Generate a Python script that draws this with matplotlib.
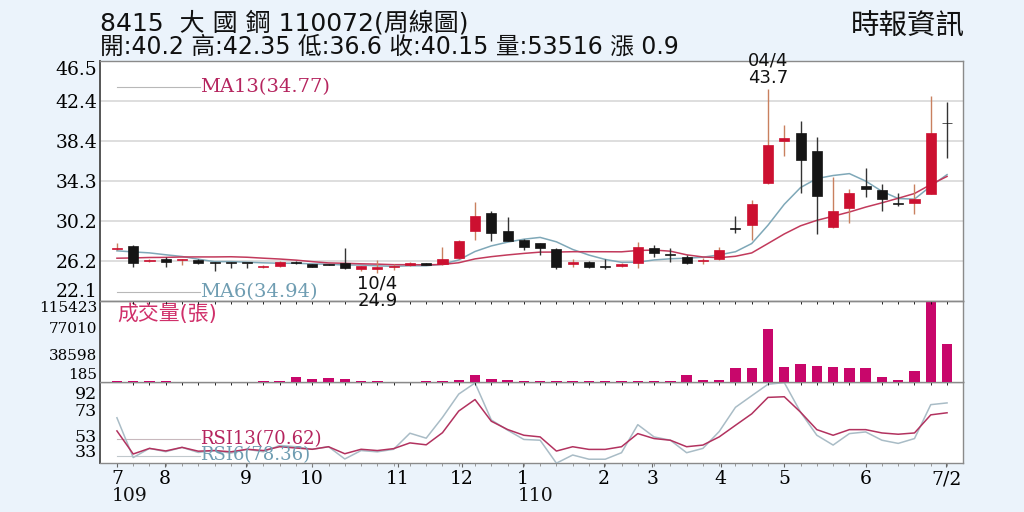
import matplotlib
matplotlib.use('Agg')
import matplotlib.pyplot as plt
import numpy as np
import pandas as pd

# 8415 大國鋼 weekly candles, 109/07 ~ 110/07/02
opens = [27.35, 27.7, 26.2, 26.35, 26.3, 26.3, 26.05, 26.0, 25.98, 25.55,
         25.65, 26.1, 25.85, 25.85, 26.0, 25.4, 25.35, 25.6, 25.75, 25.95,
         25.85, 26.5, 29.2, 31.0, 29.25, 28.3, 27.95, 27.4, 25.9, 26.05,
         25.62, 25.65, 25.95, 27.45, 26.9, 26.55, 26.15, 26.35, 29.5, 29.85,
         34.1, 38.4, 39.2, 37.3, 29.6, 31.55, 33.75, 33.4, 32.05, 32.05,
         33.0, 40.2]
highs = [27.95, 27.8, 26.4, 26.55, 26.4, 26.35, 26.1, 26.05, 26.0, 25.75,
         26.15, 26.2, 25.9, 25.9, 27.45, 25.7, 26.25, 25.9, 26.05, 26.0,
         27.55, 28.3, 32.2, 31.2, 30.6, 28.4, 28.0, 27.5, 26.35, 26.15,
         26.34, 25.95, 28.05, 27.8, 27.45, 26.75, 26.45, 27.6, 30.75, 32.4,
         43.7, 39.95, 40.35, 38.8, 34.75, 33.45, 35.6, 34.0, 33.1, 34.0,
         42.9, 42.35]
lows = [27.3, 25.6, 26.1, 25.6, 25.75, 25.9, 25.2, 25.45, 25.45, 25.5,
        25.6, 25.9, 25.55, 25.75, 25.4, 25.1, 24.9, 25.3, 25.7, 25.75,
        25.8, 26.35, 28.3, 28.2, 28.15, 27.3, 26.8, 25.35, 25.55, 25.5,
        25.32, 25.55, 25.5, 26.6, 26.1, 25.9, 25.85, 26.3, 29.05, 28.3,
        34.0, 36.8, 33.1, 28.9, 29.55, 30.0, 32.7, 31.3, 31.8, 30.95,
        33.0, 36.6]
closes = [27.5, 25.95, 26.3, 26.05, 26.35, 25.95, 26.0, 25.98, 25.95, 25.65,
          26.1, 25.95, 25.6, 25.8, 25.45, 25.65, 25.6, 25.65, 25.95, 25.8,
          26.4, 28.25, 30.75, 29.05, 28.25, 27.6, 27.5, 25.55, 26.1, 25.6,
          25.6, 25.85, 27.55, 26.95, 26.8, 25.95, 26.2, 27.3, 29.45, 31.95,
          38.0, 38.7, 36.4, 32.8, 31.3, 33.1, 33.45, 32.45, 32.0, 32.45,
          39.2, 40.15]
# closes of the weeks before the window, for the moving averages
pre_closes = [25.6, 25.7, 25.9, 25.8, 25.9, 26.0, 25.75, 26.6, 26.9, 27.2, 27.4, 27.6]

volumes = [600, 1500, 1300, 300, 250, 250, 250, 200, 250, 300,
           1000, 6200, 4300, 4700, 3300, 300, 300, 250, 250, 300,
           1000, 2400, 9100, 3800, 2900, 1500, 1200, 1200, 400, 350,
           300, 350, 1500, 1500, 1500, 9500, 2400, 2400, 20000, 19100,
           74800, 21500, 24800, 22900, 21000, 20000, 20000, 7150, 2900, 15700,
           115423, 53516]

rsi6 = [66.7, 35.5, 42.7, 40.1, 43.5, 39.5, 41, 39, 42, 40,
        45, 44, 42, 44, 34.4, 41, 40, 42, 54.6, 50.7,
        67, 85.3, 94, 65, 57, 49.7, 49.1, 31.1, 37.5, 34.2,
        34.2, 39.3, 61.3, 51.7, 49.1, 39.3, 42.7, 55.9, 74.9, 84.0,
        93.0, 94.3, 71.1, 53.0, 45.3, 54.3, 55.6, 49.1, 46.6, 50.4,
        77.0, 78.36]
rsi13 = [56.4, 38.3, 42.7, 40.7, 43.5, 40.5, 41, 40, 42, 41,
         44, 43, 42, 44, 38.5, 42, 41, 42.5, 47, 45.5,
         55, 72, 81, 64, 57.5, 53.0, 51.7, 40.6, 44.0, 41.9,
         41.9, 44.0, 54.3, 50.4, 49.1, 44.0, 45.3, 51.7, 60.8, 69.8,
         82.7, 83.2, 71.1, 57.4, 53.0, 57.4, 57.4, 54.8, 53.8, 54.8,
         69.0, 70.62]

price_ticks = [22.1, 26.2, 30.2, 34.3, 38.4, 42.4, 46.5]
vol_ticks = [185, 38598, 77010, 115423]
rsi_ticks = [33, 53, 73, 92]
month_pos = [0, 2.95, 7.93, 11.98, 17.27, 21.2, 24.95, 29.9, 32.9, 37.1, 41.0, 46.0, 50.95]
month_labels = ['7', '8', '9', '10', '11', '12', '1', '2', '3', '4', '5', '6', '7/2']
year_marks = [(0, '109'), (24.95, '110')]

RED = '#cc1030'
BLACK = '#151515'
CJK = ['DejaVu Sans', 'Noto Sans CJK TC']
SERIF = 'DejaVu Serif'

o = np.array(opens)
h = np.array(highs)
l = np.array(lows)
c = np.array(closes)
x = np.arange(len(c))
up = c >= o

s = pd.Series(pre_closes + closes)
ma6 = s.rolling(6).mean().to_numpy()[len(pre_closes):]
ma13 = s.rolling(13).mean().to_numpy()[len(pre_closes):]

fig = plt.figure(figsize=(10.24, 5.12), dpi=100, facecolor='#ebf3fb')
left, width = 100 / 1024, 863 / 1024
ax_p = fig.add_axes([left, 1 - 301 / 512, width, 240 / 512])
ax_v = fig.add_axes([left, 1 - 381.7 / 512, width, 80.7 / 512], sharex=ax_p)
ax_r = fig.add_axes([left, 1 - 463.3 / 512, width, 81.6 / 512], sharex=ax_p)
# price panel on top so its notes can spill over the volume panel
ax_p.set_zorder(3)
ax_v.set_zorder(2)
ax_r.set_zorder(1)

for ax in (ax_p, ax_v, ax_r):
    ax.set_facecolor('white')
    for sp in ax.spines.values():
        sp.set_color('#8a8a8a')
        sp.set_linewidth(1.0)
    ax.spines['left'].set_color('#555555')
    ax.spines['left'].set_linewidth(1.4)
    ax.tick_params(axis='y', length=0, pad=2, labelsize=13)

# price panel
ax_p.plot(x, ma6, color='#7fa8b8', lw=1.1, zorder=2)
ax_p.plot(x, ma13, color='#c23a5c', lw=1.1, zorder=2)
wick_cols = np.where(up, '#c9805f', '#333333')
body_cols = np.where(up, RED, BLACK)
ax_p.vlines(x, l, h, colors=wick_cols, lw=1.0, zorder=3)
ax_p.bar(x, np.maximum(np.abs(c - o), 0.08), width=0.62, bottom=np.minimum(o, c),
         color=body_cols, edgecolor=body_cols, lw=0.5, zorder=4)
ax_p.set_ylim(22.1, 46.5)
ax_p.set_yticks(price_ticks)
ax_p.set_yticklabels([f'{t:.1f}' for t in price_ticks], family=SERIF, fontsize=13.5)
ax_p.grid(axis='y', color='#dedede', lw=1.4, zorder=0)
ax_p.tick_params(axis='x', bottom=False, labelbottom=False)
labs = ax_p.get_yticklabels()
labs[0].set_va('bottom')
labs[-1].set_va('top')

imax = int(np.argmax(h))
ax_p.annotate('04/4\n43.7', xy=(x[imax], h[imax]), xytext=(0, 1), textcoords='offset points',
              ha='center', va='bottom', fontsize=13, linespacing=0.95, color='#111111',
              annotation_clip=False, zorder=6)
imin = int(np.argmin(l))
ax_p.annotate('10/4\n24.9', xy=(x[imin], l[imin]), xytext=(0, -1), textcoords='offset points',
              ha='center', va='top', fontsize=13, linespacing=0.95, color='#111111',
              annotation_clip=False, zorder=6)

ax_p.plot([0.02, 0.116], [0.892, 0.892], transform=ax_p.transAxes, color='#b8b8b8', lw=0.8)
ax_p.text(0.116, 0.892, 'MA13(34.77)', transform=ax_p.transAxes, va='center', ha='left',
          family=SERIF, fontsize=14, color='#b5245e')
ax_p.plot([0.02, 0.116], [0.036, 0.036], transform=ax_p.transAxes, color='#b8b8b8', lw=0.8)
ax_p.text(0.116, 0.036, 'MA6(34.94)', transform=ax_p.transAxes, va='center', ha='left',
          family=SERIF, fontsize=14, color='#6f9db2')

# volume panel
ax_v.bar(x, volumes, width=0.64, color='#c8076b', zorder=3)
ax_v.set_ylim(0, 115423)
ax_v.set_yticks(vol_ticks)
ax_v.set_yticklabels([str(t) for t in vol_ticks], family=SERIF, fontsize=11)
ax_v.tick_params(axis='x', bottom=False, labelbottom=False)
vlabs = ax_v.get_yticklabels()
vlabs[0].set_va('bottom')
vlabs[-1].set_va('top')
ax_v.text(0.0197, 0.84, '成交量(張)', transform=ax_v.transAxes, va='center', ha='left',
          family=CJK, fontsize=15, color='#d0306a')

# RSI panel
ax_r.plot(x, rsi6, color='#a9bcc6', lw=1.1, zorder=3)
ax_r.plot(x, rsi13, color='#b2325f', lw=1.1, zorder=4)
ax_r.set_ylim(31, 95)
ax_r.set_yticks(rsi_ticks)
ax_r.set_yticklabels([str(t) for t in rsi_ticks], family=SERIF, fontsize=12.5)
rlabs = ax_r.get_yticklabels()
rlabs[0].set_va('bottom')
rlabs[-1].set_va('top')
ax_r.plot([0.02, 0.116], [0.3, 0.3], transform=ax_r.transAxes, color='#c8b8bd', lw=0.8)
ax_r.text(0.116, 0.3, 'RSI13(70.62)', transform=ax_r.transAxes, va='center', ha='left',
          family=SERIF, fontsize=13, color='#b5245e', zorder=6)
ax_r.plot([0.02, 0.116], [0.095, 0.095], transform=ax_r.transAxes, color='#c0c8cc', lw=0.8)
ax_r.text(0.116, 0.095, 'RSI6(78.36)', transform=ax_r.transAxes, va='center', ha='left',
          family=SERIF, fontsize=13, color='#6f9db2', zorder=6)

ax_r.set_xticks(month_pos)
ax_r.set_xticklabels(month_labels, family=SERIF, fontsize=13.5)
ax_r.set_xticks(x, minor=True)
ax_r.tick_params(axis='x', which='major', length=3, color='#666666', pad=2)
ax_r.tick_params(axis='x', which='minor', length=2, color='#888888')
for pos, yr in year_marks:
    ax_r.annotate(yr, xy=(pos, 0), xycoords=('data', 'axes fraction'), xytext=(-4, -17),
                  textcoords='offset points', ha='left', va='top', family=SERIF, fontsize=13.5,
                  color='#111111', annotation_clip=False)
ax_r.set_xlim(-1.04, 51.98)

# header
fig.text(100 / 1024, 1 - 31 / 512, '8415  大 國 鋼 110072(周線圖)', family=CJK, fontsize=18,
         va='baseline', ha='left', color='#111111')
fig.text(100 / 1024, 1 - 54 / 512, '開:40.2 高:42.35 低:36.6 收:40.15 量:53516 漲 0.9', family=CJK,
         fontsize=17, va='baseline', ha='left', color='#111111')
fig.text(965 / 1024, 1 - 35 / 512, '時報資訊', family=CJK, fontsize=20.5, va='baseline', ha='right',
         color='#111111')

fig.savefig('out.png', dpi=100, facecolor=fig.get_facecolor())
